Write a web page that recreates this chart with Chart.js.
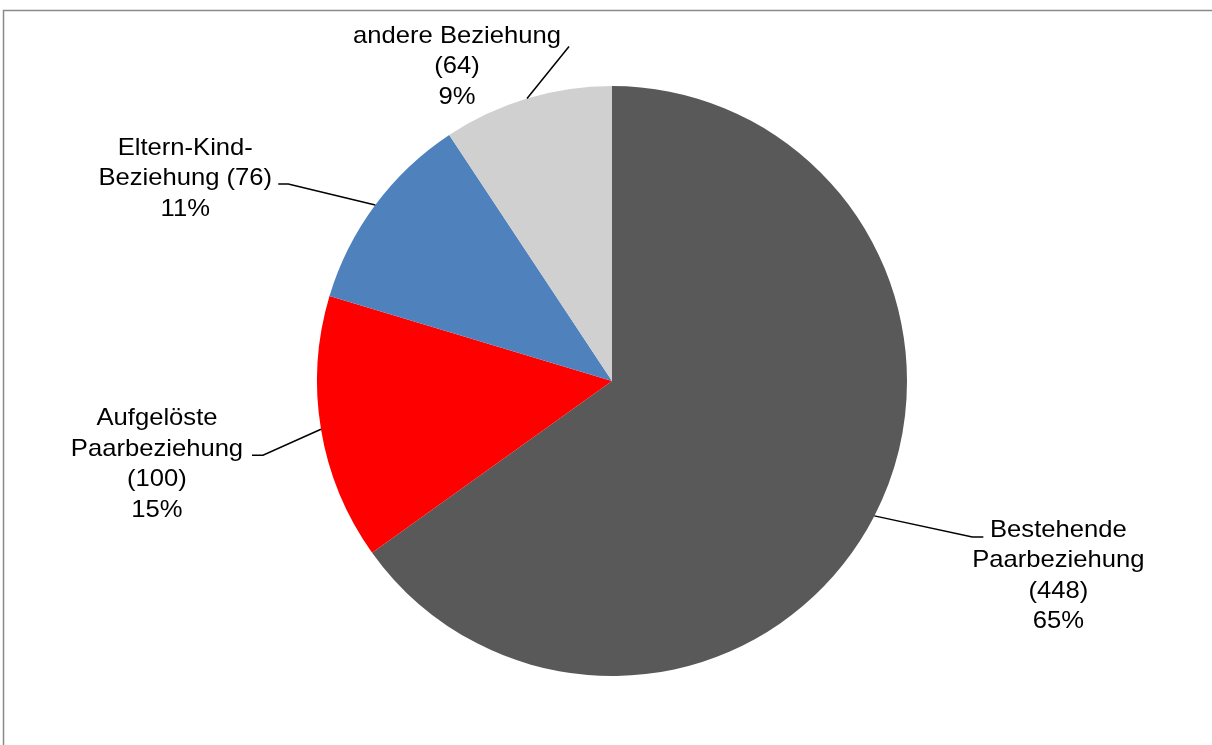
<!DOCTYPE html>
<html>
<head>
<meta charset="utf-8">
<script src="https://cdn.jsdelivr.net/npm/chart.js@4"></script>
<style>
  html, body { margin: 0; padding: 0; background: #ffffff; }
  #wrap { width: 1212px; height: 745px; position: relative; }
</style>
</head>
<body>
<div id="wrap"><canvas id="c" width="1212" height="745"></canvas></div>
<script>
// ---- data ----
const categories = ["Bestehende Paarbeziehung", "Aufgelöste Paarbeziehung", "Eltern-Kind-Beziehung", "andere Beziehung"];
const values = [448, 100, 76, 64];
const colors = ["#595959", "#FF0000", "#4F81BD", "#D0D0D0"];
// label text wrapping (as in the reference)
const labelLines = [
  ["Bestehende", "Paarbeziehung", "({v})", "{p}%"],
  ["Aufgelöste", "Paarbeziehung", "({v})", "{p}%"],
  ["Eltern-Kind-", "Beziehung ({v})", "{p}%"],
  ["andere Beziehung", "({v})", "{p}%"]
];

// label placement relative to the slice's outer mid point (px)
const labelPlacement = [
  { elbow: [98, 21],  end: [109, 21], textX: 184,  textY: 21 },
  { elbow: [-58, 26], end: [-69, 26], textX: -164, textY: -4 },
  { elbow: [-87, -21], end: [-97, -21], textX: -190, textY: -50 },
  { elbow: [42, -52], end: [42, -52], textX: -70, textY: -56 }
];

const FONT = '24px "Liberation Sans", Arial, sans-serif';
const H_STRETCH = 1.067;
const LINE_H = 30.5;

const framePlugin = {
  id: 'frame',
  beforeDraw(chart) {
    const ctx = chart.ctx;
    ctx.save();
    ctx.fillStyle = '#ffffff';
    ctx.fillRect(0, 0, chart.width, chart.height);
    ctx.strokeStyle = '#8a8a8a';
    ctx.lineWidth = 1.5;
    ctx.beginPath();
    ctx.moveTo(3.5, chart.height);
    ctx.lineTo(3.5, 10.5);
    ctx.lineTo(chart.width, 10.5);
    ctx.stroke();
    ctx.restore();
  }
};

const labelPlugin = {
  id: 'pieLabels',
  afterDatasetsDraw(chart) {
    const ctx = chart.ctx;
    const meta = chart.getDatasetMeta(0);
    const total = values.reduce((a, b) => a + b, 0);
    ctx.save();
    meta.data.forEach((arc, i) => {
      const p = arc.getProps(['x', 'y', 'startAngle', 'endAngle', 'outerRadius'], true);
      const mid = (p.startAngle + p.endAngle) / 2;
      const ax = p.x + Math.cos(mid) * p.outerRadius;
      const ay = p.y + Math.sin(mid) * p.outerRadius;
      const pl = labelPlacement[i];
      // leader line
      ctx.strokeStyle = '#000000';
      ctx.lineWidth = 1.5;
      ctx.beginPath();
      ctx.moveTo(ax, ay);
      ctx.lineTo(ax + pl.elbow[0], ay + pl.elbow[1]);
      ctx.lineTo(ax + pl.end[0], ay + pl.end[1]);
      ctx.stroke();
      // text
      const pct = Math.round(values[i] / total * 100);
      ctx.fillStyle = '#000000';
      ctx.font = FONT;
      ctx.textAlign = 'center';
      ctx.textBaseline = 'alphabetic';
      const cx = ax + pl.textX;
      labelLines[i].forEach((t, k) => {
        const s = t.replace('{v}', values[i]).replace('{p}', pct);
        ctx.save();
        ctx.translate(cx, ay + pl.textY + k * LINE_H);
        ctx.scale(H_STRETCH, 1);
        ctx.fillText(s, 0, 0);
        ctx.restore();
      });
    });
    ctx.restore();
  }
};

new Chart(document.getElementById('c'), {
  type: 'pie',
  data: {
    labels: categories,
    datasets: [{
      data: values,
      backgroundColor: colors,
      borderWidth: 0
    }]
  },
  options: {
    responsive: false,
    animation: false,
    devicePixelRatio: 1,
    layout: { padding: { left: 317, right: 305, top: 86, bottom: 69 } },
    plugins: {
      legend: { display: false },
      tooltip: { enabled: false }
    }
  },
  plugins: [framePlugin, labelPlugin]
});
</script>
</body>
</html>
